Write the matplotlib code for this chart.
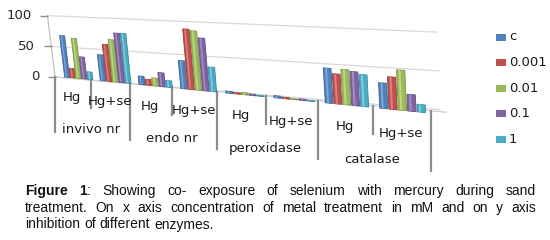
import numpy as np
import matplotlib
matplotlib.use('Agg')
import matplotlib.pyplot as plt
import matplotlib.transforms as mtransforms

# data
groups = ['invivo nr', 'endo nr', 'peroxidase', 'catalase']
subs = ['Hg', 'Hg+se'] * 4
series = ['c', '0.001', '0.01', '0.1', '1']
vals_c = [67, 41, 13, 42, 3, 3, 48, 34]
vals_001 = [15, 58, 9, 90, 2, 2, 41, 43]
vals_01 = [64, 66, 12, 88, 3, 1, 48, 53]
vals_1 = [35, 77, 21, 78, 2, 2, 46, 22]
vals_10 = [12, 77, 10, 36, 1, 1, 43, 10]
yticks = [0, 50, 100]
colors = ['#4F81BD', '#C0504D', '#9BBB59', '#8064A2', '#4BACC6']
edges = ['#3A6595', '#983C3A', '#7A9446', '#634E80', '#3A889D']
lights = ['#7FA6D6', '#D98280', '#BCD58A', '#A48DC2', '#80CBDD']

all_vals = [vals_c, vals_001, vals_01, vals_1, vals_10]


# fake excel 3d perspective: (category, value) -> pixels
def F(u):      # front edge of the floor
    return 55 + 34 * u + 1.625 * u ** 2


def Fb(u):     # plane where the columns stand
    return 61.25 + 33.71 * u + 1.571 * u ** 2


def lean(x):
    return 0.075 - 0.00012 * (x - 60)


def vscale(x):
    return 0.61 + 0.00042 * (x - 45)


def front(x):
    return 77 + 0.09 * (x - 55)


class Persp(mtransforms.Transform):
    input_dims = 2
    output_dims = 2
    is_separable = False

    def __init__(self, xfun, base):
        super().__init__()
        self.xfun = xfun
        self.base = base

    def transform_non_affine(self, values):
        values = np.asarray(values, dtype=float).reshape(-1, 2)
        u, v = values[:, 0], values[:, 1]
        xb = self.xfun(u)
        return np.column_stack([xb - lean(xb) * v, self.base(xb) - v * vscale(xb)])


class Table(mtransforms.Transform):
    input_dims = 2
    output_dims = 2
    is_separable = False

    def transform_non_affine(self, values):
        values = np.asarray(values, dtype=float).reshape(-1, 2)
        x = F(values[:, 0])
        return np.column_stack([x, front(x) + values[:, 1]])


fig = plt.figure(figsize=(5.5, 2.4), dpi=100)
ax = fig.add_axes([0, 0, 1, 1])
ax.set_autoscale_on(False)
ax.set_xlim(0, 550)
ax.set_ylim(240, 0)
ax.axis('off')

bar_t = Persp(Fb, lambda x: 76.7 + 0.099 * (x - 62)) + ax.transData
wall_t = Persp(F, lambda x: 77 + 0.085 * (x - 55)) + ax.transData
tab_t = Table() + ax.transData

# back wall gridlines and floor
uu = np.linspace(0, 8.15, 60)
for t in yticks[1:]:
    ax.plot(uu, np.full_like(uu, t), color='#D9D9D9', lw=0.9, transform=wall_t, zorder=1)
ax.plot(uu, np.zeros_like(uu), color='#D9D9D9', lw=0.9, transform=wall_t, zorder=1)
uf = np.linspace(0, 8.25, 60)
ax.plot(uf, np.zeros_like(uf), color='#D0D0D0', lw=0.9, transform=tab_t, zorder=1)

# value axis
ax.plot([0, 0], [0, 100], color='#BFBFBF', lw=0.9, transform=wall_t, zorder=2)
for t in yticks:
    ax.plot(0, t, marker='_', ms=6, mew=1.0, color='#8C8C8C',
            transform=mtransforms.offset_copy(wall_t, fig, x=-3, units='dots'))
    ax.text(0, t, str(t), ha='right', va='center', fontsize=9.5, color='#262626',
            transform=mtransforms.offset_copy(wall_t, fig, x=-16, units='dots'))

# columns (with a light stripe for the cylinder look)
n = len(series)
span = 0.82
w = span / n
for i, (vals, col, ec, lc) in enumerate(zip(all_vals, colors, edges, lights)):
    pos = np.arange(len(vals)) + 0.09 + w * (i + 0.5)
    ax.bar(pos, vals, width=w * 0.88, color=col, edgecolor=ec, linewidth=0.6,
           transform=bar_t, zorder=3 + i * 0.01, label=series[i])
    ax.bar(pos - w * 0.12, vals, width=w * 0.22, color=lc, edgecolor='none',
           transform=bar_t, zorder=3.005 + i * 0.01)

# category table
for k in range(len(subs) + 1):
    x = F(k)
    if k % 2 == 0:
        length = 55 + 0.013 * (x - 55)
    else:
        length = 28
    ax.plot([k, k], [0, length], color='#8C8C8C', lw=1.6, transform=tab_t, zorder=2)
for k, s in enumerate(subs):
    x = F(k + 0.5)
    ax.text(k + 0.5, 19 + 0.017 * (x - 55), s, ha='center', va='center',
            fontsize=9.5, color='#1a1a1a', transform=tab_t)
for k, g in enumerate(groups):
    x = F(2 * k + 1)
    ax.text(2 * k + 1, 49 + 0.015 * (x - 55), g, ha='center', va='center',
            fontsize=9.5, color='#1a1a1a', transform=tab_t)

# legend
for i, s in enumerate(series):
    y = 37 + 25.6 * i
    ax.add_patch(plt.Rectangle((496, y - 3.5), 10, 7, facecolor=colors[i], edgecolor='none'))
    ax.text(509, y, s, ha='left', va='center', fontsize=9.5, color='#1a1a1a')

# caption, justified like the journal layout
cap_lines = [
    [[('Figure', 'bold')], [('1', 'bold'), (':', 'normal')], 'Showing', 'co-', 'exposure', 'of',
     'selenium', 'with', 'mercury', 'during', 'sand'],
    ['treatment.', 'On', 'x', 'axis', 'concentration', 'of', 'metal', 'treatment', 'in', 'mM',
     'and', 'on', 'y', 'axis'],
    ['inhibition', 'of', 'different', 'enzymes.'],
]
cap_y = [195, 212, 228.5]
x_left, x_right = 25, 536
renderer = fig.canvas.get_renderer()
inv = ax.transData.inverted()


def width_of(t):
    bb = t.get_window_extent(renderer=renderer)
    p0 = inv.transform((bb.x0, bb.y0))
    p1 = inv.transform((bb.x1, bb.y1))
    return abs(p1[0] - p0[0])


for li, (words, y) in enumerate(zip(cap_lines, cap_y)):
    pieces = []
    widths = []
    for wd in words:
        if isinstance(wd, str):
            wd = [(wd, 'normal')]
        arts = []
        ww = 0
        for txt, wt in wd:
            t = ax.text(0, y, txt, fontsize=10, family='Liberation Sans', fontweight=wt,
                        va='baseline', ha='left', color='#111111')
            arts.append((t, ww))
            ww += width_of(t)
        pieces.append(arts)
        widths.append(ww)
    if li < len(cap_lines) - 1:
        gap = (x_right - x_left - sum(widths)) / (len(words) - 1)
    else:
        gap = 3.9
    x = x_left
    for arts, ww in zip(pieces, widths):
        for t, off in arts:
            t.set_x(x + off)
        x += ww + gap

fig.savefig('out.png', dpi=100, facecolor='white')
